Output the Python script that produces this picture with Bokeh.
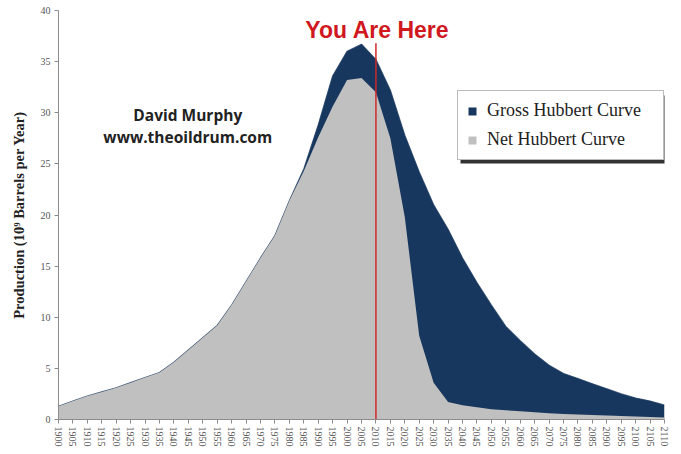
from bokeh.plotting import figure
from bokeh.models import Range1d, FixedTicker, Label, Legend, LegendItem, BoxAnnotation
from bokeh.embed import file_html
from bokeh.resources import INLINE

years = list(range(1900, 2111, 5))
gross = [1.3, 1.8, 2.3, 2.7, 3.1, 3.6, 4.1, 4.6, 5.6, 6.8,
         8.0, 9.2, 11.2, 13.5, 15.8, 18.0, 21.4, 24.5, 28.8, 33.6,
         36.0, 36.7, 35.2, 32.2, 27.8, 24.2, 21.0, 18.6, 15.8, 13.4,
         11.2, 9.1, 7.7, 6.4, 5.3, 4.5, 4.0, 3.5, 3.0, 2.5,
         2.1, 1.8, 1.4]
net = [1.3, 1.8, 2.3, 2.7, 3.1, 3.6, 4.1, 4.6, 5.6, 6.8,
       8.0, 9.2, 11.2, 13.5, 15.8, 18.0, 21.4, 24.3, 27.6, 30.6,
       33.2, 33.4, 32.0, 27.5, 19.8, 8.2, 3.6, 1.7, 1.4, 1.2,
       1.0, 0.9, 0.8, 0.7, 0.6, 0.55, 0.5, 0.45, 0.4, 0.35,
       0.3, 0.25, 0.2]
y_ticks = [0, 5, 10, 15, 20, 25, 30, 35, 40]
here_year = [2010]
here_top = [36.8]

DARK = "#17375e"
GRAY = "#c0c0c0"

p = figure(width=681, height=454, output_backend="svg", toolbar_location=None,
           x_range=Range1d(1900, 2110), y_range=Range1d(0, 40),
           min_border_left=58, min_border_right=17, min_border_top=10, min_border_bottom=35)
p.outline_line_color = None
p.grid.visible = False
p.background_fill_color = "white"

r_gross = p.varea(x=years, y1=0, y2=gross, fill_color=DARK)
p.line(years, gross, line_color=DARK, line_width=1.2, line_alpha=0.8)
r_net = p.varea(x=years, y1=0, y2=net, fill_color=GRAY)
p.segment(x0=here_year, y0=[0], x1=here_year, y1=here_top, line_color="#cc2a2a", line_width=1.5)

# axes
p.xaxis.ticker = FixedTicker(ticks=years)
p.yaxis.ticker = FixedTicker(ticks=y_ticks)
for ax in (p.xaxis, p.yaxis):
    ax.axis_line_color = "#8c8c8c"
    ax.major_tick_line_color = "#8c8c8c"
    ax.minor_tick_line_color = None
    ax.major_tick_out = 4
    ax.major_tick_in = 0
    ax.major_label_text_font = "Liberation Serif"
    ax.major_label_text_color = "#555555"
p.xaxis.major_label_orientation = "vertical"
p.xaxis.major_label_text_font_size = "10px"
p.xaxis.major_label_standoff = 3
p.yaxis.major_label_text_font_size = "10px"
p.yaxis.major_label_standoff = 4
p.yaxis.axis_label = "Production (10\u2079 Barrels per Year)"
p.yaxis.axis_label_text_font = "Liberation Serif"
p.yaxis.axis_label_text_font_style = "bold"
p.yaxis.axis_label_text_font_size = "14.5px"
p.yaxis.axis_label_text_color = "#222222"
p.yaxis.axis_label_standoff = 11

# annotations
p.add_layout(Label(x=1944.8, y=29.8, text="David Murphy", text_align="center",
                   text_baseline="middle", text_font="Open Sans", text_font_style="bold",
                   text_font_size="15.5px", text_color="#222222"))
p.add_layout(Label(x=1944.8, y=27.6, text="www.theoildrum.com", text_align="center",
                   text_baseline="middle", text_font="Open Sans", text_font_style="bold",
                   text_font_size="15.5px", text_color="#222222"))
p.add_layout(Label(x=2010.5, y=38.1, text="You Are Here", text_align="center",
                   text_baseline="middle", text_font="Liberation Sans", text_font_style="bold",
                   text_font_size="23px", text_color="#d0181e"))

# legend drop shadow
p.add_layout(BoxAnnotation(left=460, right=665, top=95, bottom=163,
                           left_units="canvas", right_units="canvas",
                           top_units="canvas", bottom_units="canvas",
                           fill_color="#333333", fill_alpha=1.0, line_color=None))

legend = Legend(items=[LegendItem(label="Gross Hubbert Curve", renderers=[r_gross]),
                       LegendItem(label="Net Hubbert Curve", renderers=[r_net])],
                location=(399, 259))
legend.label_text_font = "Liberation Serif"
legend.label_text_font_size = "18px"
legend.label_text_color = "#222222"
legend.glyph_width = 10
legend.glyph_height = 10
legend.label_standoff = 10
legend.label_width = 167
legend.padding = 9
legend.spacing = 8
legend.margin = 0
legend.border_line_color = "#777777"
legend.border_line_width = 1
legend.background_fill_alpha = 1.0
p.add_layout(legend)

open("out.html", "w").write(file_html(p, INLINE))
